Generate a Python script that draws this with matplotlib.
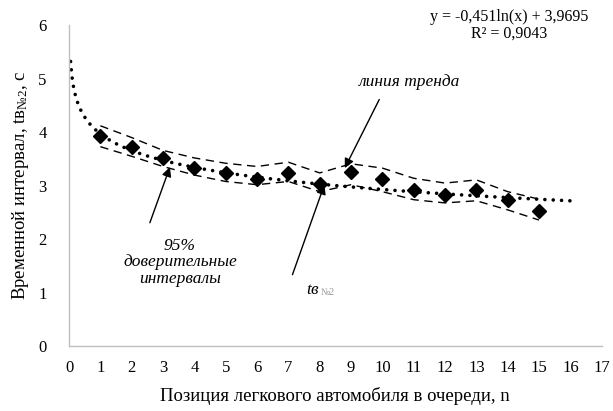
import matplotlib.pyplot as plt
import numpy as np

plt.rcParams['font.family'] = ['Liberation Serif', 'DejaVu Serif']
plt.rcParams['mathtext.fontset'] = 'custom'
plt.rcParams['mathtext.rm'] = 'Liberation Serif'
plt.rcParams['mathtext.it'] = 'Liberation Serif:italic'

# позиция автомобиля в очереди и средний временной интервал
pos = [1, 2, 3, 4, 5, 6, 7, 8, 9, 10, 11, 12, 13, 14, 15]
tv = [3.93, 3.73, 3.52, 3.34, 3.24, 3.13, 3.24, 3.04, 3.25, 3.13, 2.92, 2.82, 2.92, 2.73, 2.52]
# 95% доверительные интервалы
upper = [4.12, 3.90, 3.66, 3.52, 3.42, 3.36, 3.44, 3.24, 3.41, 3.33, 3.14, 3.05, 3.11, 2.89, 2.75]
lower = [3.73, 3.55, 3.36, 3.20, 3.08, 3.02, 3.08, 2.89, 3.02, 2.89, 2.74, 2.68, 2.72, 2.55, 2.36]

# логарифмический тренд
a, b = -0.451, 3.9695
r2 = 0.9043
xt = np.linspace(0.05, 16, 400)
yt = a * np.log(xt) + b

fig = plt.figure(figsize=(6.13, 4.11), dpi=100)
ax = fig.add_axes([0.1126, 0.157, 0.869, 0.782])

ax.plot(pos, upper, color='black', lw=1.0, ls=(0, (6, 4)))
ax.plot(pos, lower, color='black', lw=1.0, ls=(0, (6, 4)))
ax.plot(xt, yt, color='black', lw=2.6, ls=(0, (0.01, 2.3)), dash_capstyle='round')
ax.plot(pos, tv, ls='none', marker='D', ms=7.5, color='black')

ax.set_xlim(0, 17)
ax.set_ylim(0, 6)
ax.set_xticks(range(0, 18))
ax.set_yticks(range(0, 7))
ax.tick_params(length=0, labelsize=12, pad=10)
ax.tick_params(axis='y', pad=16)
for s in ['top', 'right']:
    ax.spines[s].set_visible(False)
for s in ['left', 'bottom']:
    ax.spines[s].set_color('#bfbfbf')
    ax.spines[s].set_linewidth(1.0)

ax.set_xlabel('Позиция легкового автомобиля в очереди, n', fontsize=13.5, labelpad=8)
ax.set_ylabel(r'Временной интервал, tв$\mathregular{_{№2}}$, с', fontsize=13.5, labelpad=5)

fmt = lambda v: str(v).replace('.', ',')
ax.text(14.05, 6.0, 'y = %sln(x) + %s\nR² = %s' % (fmt(a), fmt(b), fmt(r2)),
        ha='center', va='center', fontsize=11.5, linespacing=1.05)

arrow = dict(arrowstyle='-|>', color='black', lw=1.0, mutation_scale=14, shrinkA=0, shrinkB=0)

ax.text(10.86, 4.94, 'линия тренда', ha='center', va='center', fontsize=12.5, style='italic')
ax.annotate('', xy=(8.8, 3.33), xytext=(9.9, 4.61), arrowprops=arrow)

ax.text(3.54, 1.57, '95%\nдоверительные\nинтервалы', ha='center', va='center',
        fontsize=12.5, style='italic', linespacing=1.05)
ax.annotate('', xy=(3.22, 3.35), xytext=(2.58, 2.31), arrowprops=arrow)

ax.text(7.78, 1.06, r'$\mathit{tв}$', ha='center', va='center', fontsize=12.5)
ax.text(8.02, 1.0, '№2', ha='left', va='center', fontsize=7, color='#999999')
ax.annotate('', xy=(8.15, 3.02), xytext=(7.13, 1.34), arrowprops=arrow)

fig.savefig('out.png', dpi=100)
